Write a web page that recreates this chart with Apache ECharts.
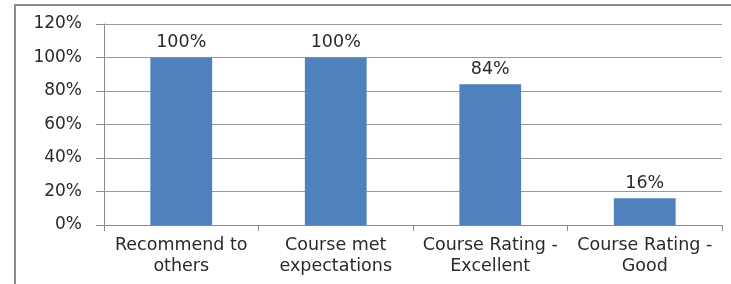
<!DOCTYPE html>
<html><head><meta charset="utf-8">
<script src="https://cdn.jsdelivr.net/npm/echarts@6/dist/echarts.min.js"></script>
<style>html,body{margin:0;padding:0;background:#fff}#c{width:731px;height:284px}</style>
</head><body><div id="c"></div>
<script>
const categories = ["Recommend to\nothers", "Course met\nexpectations", "Course Rating -\nExcellent", "Course Rating -\nGood"];
const values = [100, 100, 84, 16];
const chart = echarts.init(document.getElementById('c'));
chart.setOption({
  animation: false,
  textStyle: {fontFamily: "DejaVu Sans"},
  graphic: [
    {type: 'polyline', shape: {points: [[15, 284], [15, 5], [731, 5]]}, style: {stroke: '#8c8c8c', lineWidth: 2, fill: null}}
  ],
  grid: {left: 104, right: 9, top: 24, bottom: 59},
  xAxis: {
    type: 'category', data: categories,
    axisLine: {lineStyle: {color: '#8a8a8a'}},
    axisTick: {show: true, interval: 0, length: 6, lineStyle: {color: '#8a8a8a'}},
    axisLabel: {interval: 0, color: '#2a2a2a', fontSize: 17.5, lineHeight: 21, margin: 10}
  },
  yAxis: {
    type: 'value', min: 0, max: 120, interval: 20,
    axisLine: {show: true, lineStyle: {color: '#8a8a8a'}},
    axisTick: {show: true, length: 8, lineStyle: {color: '#8a8a8a'}},
    splitLine: {lineStyle: {color: '#9a9a9a'}},
    axisLabel: {formatter: '{value}%', color: '#2a2a2a', fontSize: 17, margin: 22}
  },
  series: [{
    type: 'bar', data: values, barWidth: '40%',
    itemStyle: {color: '#4F81BD'},
    label: {show: true, position: 'top', formatter: '{c}%', color: '#2a2a2a', fontSize: 17.5, distance: 6}
  }]
});
</script></body></html>
